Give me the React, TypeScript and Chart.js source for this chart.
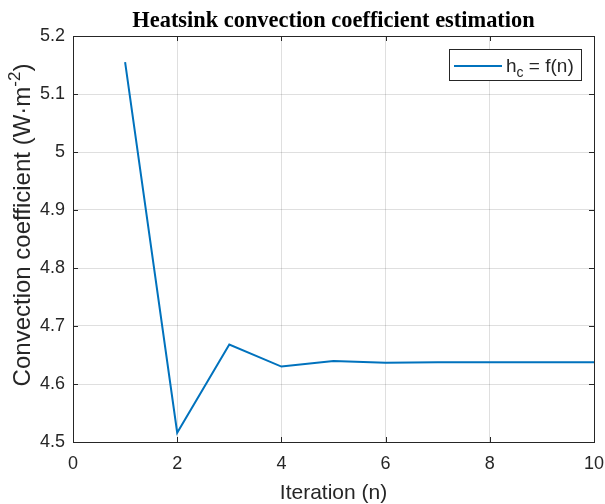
import React, { useEffect, useRef } from "react";
import { Chart, registerables } from "chart.js";

Chart.register(...registerables);

const iterations = [1, 2, 3, 4, 5, 6, 7, 8, 9, 10];
const hcValues = [5.155, 4.516, 4.668, 4.63, 4.6397, 4.6368, 4.6374, 4.6374, 4.6374, 4.6374];
const xTickValues = [0, 2, 4, 6, 8, 10];
const yTickValues = [4.5, 4.6, 4.7, 4.8, 4.9, 5.0, 5.1, 5.2];

const titleText = "Heatsink convection coefficient estimation";
const xTitle = "Iteration (n)";
const yTitleMain = "Convection coefficient (W·m";
const yTitleSup = "-2";
const yTitleEnd = ")";
const legendMain = "h";
const legendSub = "c";
const legendRest = " = f(n)";

const TEXT = "#262626";
const LINE = "#0072BD";
const SANS = "'Liberation Sans', Arial, sans-serif";
const SERIF = "'Liberation Serif', 'Times New Roman', serif";

const decorPlugin = {
  id: "decor",
  afterDraw(chart: any) {
    const ctx = chart.ctx as CanvasRenderingContext2D;
    const a = chart.chartArea;
    const xs = chart.scales.x;
    const ys = chart.scales.y;
    const cx = (a.left + a.right) / 2;
    ctx.save();
    // box
    ctx.strokeStyle = TEXT;
    ctx.lineWidth = 1;
    ctx.strokeRect(Math.round(a.left) + 0.5, Math.round(a.top) + 0.5, Math.round(a.right - a.left), Math.round(a.bottom - a.top));
    // inward ticks
    const tl = 5;
    ctx.beginPath();
    xTickValues.forEach((v) => {
      const px = Math.round(xs.getPixelForValue(v)) + 0.5;
      ctx.moveTo(px, a.bottom);
      ctx.lineTo(px, a.bottom - tl);
      ctx.moveTo(px, a.top);
      ctx.lineTo(px, a.top + tl);
    });
    yTickValues.forEach((v) => {
      const py = Math.round(ys.getPixelForValue(v)) + 0.5;
      ctx.moveTo(a.left, py);
      ctx.lineTo(a.left + tl, py);
      ctx.moveTo(a.right, py);
      ctx.lineTo(a.right - tl, py);
    });
    ctx.stroke();

    // title
    ctx.fillStyle = "#000";
    ctx.font = `bold 22.4px ${SERIF}`;
    ctx.textAlign = "center";
    ctx.textBaseline = "alphabetic";
    ctx.fillText(titleText, cx, 27);

    // x title
    ctx.fillStyle = TEXT;
    ctx.font = `21px ${SANS}`;
    ctx.fillText(xTitle, cx, 499);

    // y title (rotated)
    ctx.save();
    ctx.translate(30, 225);
    ctx.rotate(-Math.PI / 2);
    const mainF = `24px ${SANS}`;
    const supF = `17px ${SANS}`;
    ctx.font = mainF;
    const w1 = ctx.measureText(yTitleMain).width;
    ctx.font = supF;
    const w2 = ctx.measureText(yTitleSup).width;
    ctx.font = mainF;
    const w3 = ctx.measureText(yTitleEnd).width;
    const total = w1 + w2 + w3;
    const x0 = -total / 2;
    ctx.textAlign = "left";
    ctx.fillText(yTitleMain, x0, 0);
    ctx.font = supF;
    ctx.fillText(yTitleSup, x0 + w1, -10);
    ctx.font = mainF;
    ctx.fillText(yTitleEnd, x0 + w1 + w2, 0);
    ctx.restore();

    // legend
    const lx = 449.5, ly = 49.5, lw = 132, lh = 31;
    ctx.fillStyle = "#fff";
    ctx.fillRect(lx, ly, lw, lh);
    ctx.strokeStyle = TEXT;
    ctx.lineWidth = 1;
    ctx.strokeRect(lx, ly, lw, lh);
    ctx.strokeStyle = LINE;
    ctx.lineWidth = 2;
    ctx.beginPath();
    ctx.moveTo(454, 66);
    ctx.lineTo(502, 66);
    ctx.stroke();
    ctx.fillStyle = TEXT;
    ctx.textAlign = "left";
    ctx.font = `19px ${SANS}`;
    let tx = 506;
    ctx.fillText(legendMain, tx, 72);
    tx += ctx.measureText(legendMain).width;
    ctx.font = `14px ${SANS}`;
    ctx.fillText(legendSub, tx, 77);
    tx += ctx.measureText(legendSub).width;
    ctx.font = `19px ${SANS}`;
    ctx.fillText(legendRest, tx, 72);
    ctx.restore();
  },
};

export default function App() {
  const ref = useRef<HTMLCanvasElement | null>(null);
  useEffect(() => {
    if (!ref.current) return;
    const chart = new Chart(ref.current, {
      type: "line",
      data: {
        datasets: [
          {
            label: "hc = f(n)",
            data: iterations.map((n, i) => ({ x: n, y: hcValues[i] })),
            borderColor: LINE,
            borderWidth: 2,
            pointRadius: 0,
            fill: false,
            tension: 0,
          },
        ],
      },
      options: {
        animation: false,
        responsive: false,
        devicePixelRatio: 1,
        layout: { padding: { top: 36, right: 11, left: 0, bottom: 0 } },
        plugins: {
          legend: { display: false },
          title: { display: false },
          tooltip: { enabled: false },
        },
        scales: {
          x: {
            type: "linear",
            min: 0,
            max: 10,
            afterBuildTicks: (s: any) => {
              s.ticks = xTickValues.map((v) => ({ value: v }));
            },
            afterFit: (s: any) => {
              s.height = 62;
              s.paddingLeft = 0;
              s.paddingRight = 0;
            },
            ticks: {
              color: TEXT,
              font: { family: SANS, size: 18 },
              padding: 11,
              maxRotation: 0,
              callback: (v: any) => String(v),
            },
            grid: { color: "rgba(38,38,38,0.15)", drawTicks: false, lineWidth: 1 },
            border: { display: false },
          },
          y: {
            type: "linear",
            min: 4.5,
            max: 5.2,
            afterBuildTicks: (s: any) => {
              s.ticks = yTickValues.map((v) => ({ value: v }));
            },
            afterFit: (s: any) => {
              s.width = 73;
              s.paddingTop = 0;
              s.paddingBottom = 0;
            },
            ticks: {
              color: TEXT,
              font: { family: SANS, size: 18 },
              padding: 8,
              callback: (v: any) => String(Math.round(Number(v) * 10) / 10),
            },
            grid: { color: "rgba(38,38,38,0.15)", drawTicks: false, lineWidth: 1 },
            border: { display: false },
          },
        },
      },
      plugins: [decorPlugin],
    } as any);
    return () => chart.destroy();
  }, []);
  return (
    <div style={{ position: "fixed", left: 0, top: 0, width: 605, height: 504, background: "#fff" }}>
      <canvas ref={ref} width={605} height={504} style={{ display: "block" }} />
    </div>
  );
}
